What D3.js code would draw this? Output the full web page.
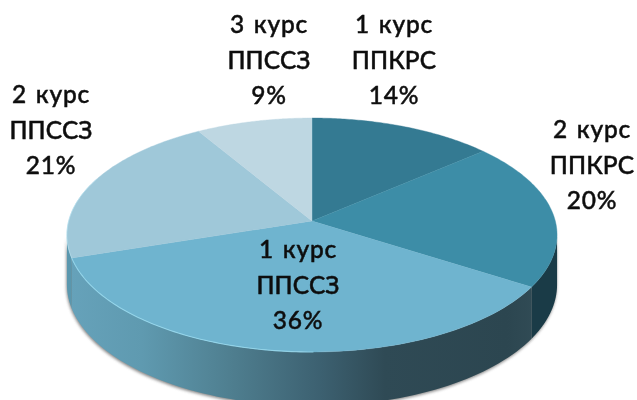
<!DOCTYPE html>
<html><head><meta charset="utf-8">
<script src="https://cdnjs.cloudflare.com/ajax/libs/d3/7.8.5/d3.min.js"></script>
<style>html,body{margin:0;padding:0;background:#fff;overflow:hidden}svg{display:block}</style>
</head><body><svg id="c" width="637" height="400"></svg>
<script>
const courses = ["1 курс","2 курс","1 курс","2 курс","3 курс"];
const programs = ["ППКРС","ППКРС","ППССЗ","ППССЗ","ППССЗ"];
const shares = [13.7,20.3,36,21.4,8.6];
const sliceColors = ["#347A92","#3D8DA7","#6FB4CF","#9FC8D9","#BED7E2"];

const W=637,H=400, cx=312, cy=221, a=243.3, b=115.3, k=-0.1197;
const TAU=Math.PI*2;
const svg=d3.select("#c");
const defs=svg.append("defs");
defs.append("filter").attr("id","soft").attr("x","-10%").attr("y","-10%").attr("width","120%").attr("height","130%")
  .append("feGaussianBlur").attr("stdDeviation",1.5);
defs.append("filter").attr("id","txt").append("feGaussianBlur").attr("stdDeviation",0.35);

const pie=d3.pie().sort(null).value((d,i)=>shares[i]);
const arcs=pie(shares);
const color=d3.scaleOrdinal().domain(d3.range(shares.length)).range(sliceColors);

// perspective projection of the unit disc (angle clockwise from 12 o'clock)
const proj=(t,r=1)=>{const u=Math.sin(t)*r,v=-Math.cos(t)*r,w=1+k*v;return [cx+a*u/w,cy+b*v/w];};
const samples=(t0,t1,n=80)=>d3.range(n+1).map(i=>t0+(t1-t0)*i/n);
const line=d3.line();
const depthAt=t=>49+5*Math.max(-Math.cos(t),0);

// the widest points of the projected rim bound the visible wall
const tR=Math.PI-Math.acos(-k), tL=TAU-tR;
const wallPts=(t0,t1)=>{
  const ts=samples(t0,t1);
  const top=ts.map(t=>proj(t));
  const bot=ts.map((t,i)=>[top[i][0],top[i][1]+depthAt(t)]).reverse();
  return top.concat(bot);
};

// soft shadow around the wall
svg.append("path").attr("d",line(wallPts(tR,tL))+"Z").attr("fill","#555").attr("opacity",.7)
  .attr("transform","translate(-0.5,1.5)").attr("filter","url(#soft)");

// wall gradient across the front
const grad=defs.append("linearGradient").attr("id","wall").attr("gradientUnits","userSpaceOnUse")
  .attr("x1",cx-a).attr("x2",cx+a).attr("y1",0).attr("y2",0);
[[0,"#66A2BA"],[.15,"#5F9AB0"],[.33,"#4F7F90"],[.52,"#3C6070"],[.65,"#2F4A55"],[.9,"#2C4650"],[1,"#344F59"]]
  .forEach(s=>grad.append("stop").attr("offset",s[0]).attr("stop-color",s[1]));

const wallFill=i=>i===1?"#1A3B47":(i===3?"#5A97AE":"url(#wall)");
arcs.forEach((d,i)=>{
  const t0=Math.max(d.startAngle,tR),t1=Math.min(d.endAngle,tL);
  if(t1<=t0) return;
  svg.append("path").attr("d",line(wallPts(t0,t1))+"Z").attr("fill",wallFill(i));
});

// top face
svg.selectAll("path.slice").data(arcs).join("path").attr("class","slice")
  .attr("fill",(d,i)=>color(i)).attr("stroke",(d,i)=>color(i)).attr("stroke-width",.4)
  .attr("d",d=>line([[cx,cy]].concat(samples(d.startAngle,d.endAngle).map(t=>proj(t))))+"Z");

// bevel highlight on the front and left rim
svg.append("path").attr("fill","none").attr("stroke","#9BDDF2").attr("stroke-width",1.1).attr("opacity",.75)
  .attr("d",line(samples(arcs[2].startAngle+1.0,arcs[2].endAngle).map(t=>proj(t))));
svg.append("path").attr("fill","none").attr("stroke","#B4E2F2").attr("stroke-width",1).attr("opacity",.6)
  .attr("d",line(samples(arcs[3].startAngle,arcs[3].startAngle+.7).map(t=>proj(t))));

// labels
const labelCenter=[[394,60],[592,165],[298,285],[51,130],[269,60]];
const lh=35.5;
const g=svg.append("g").attr("filter","url(#txt)");
arcs.forEach((d,i)=>{
  const [x,y]=labelCenter[i];
  [courses[i],programs[i],Math.round(shares[i])+"%"].forEach((s,j)=>{
    g.append("text").attr("x",x).attr("y",y+(j-1)*lh).attr("dy","0.36em")
      .attr("text-anchor","middle").attr("fill","#0c0c0c").attr("stroke","#0c0c0c").attr("stroke-width",.45)
      .attr("letter-spacing",j===1?0.1:0.8).attr("word-spacing",j===0?2:0)
      .attr("font-family","Lato, 'Open Sans', sans-serif").attr("font-size",24.5).attr("font-weight",500).text(s);
  });
});
</script></body></html>
